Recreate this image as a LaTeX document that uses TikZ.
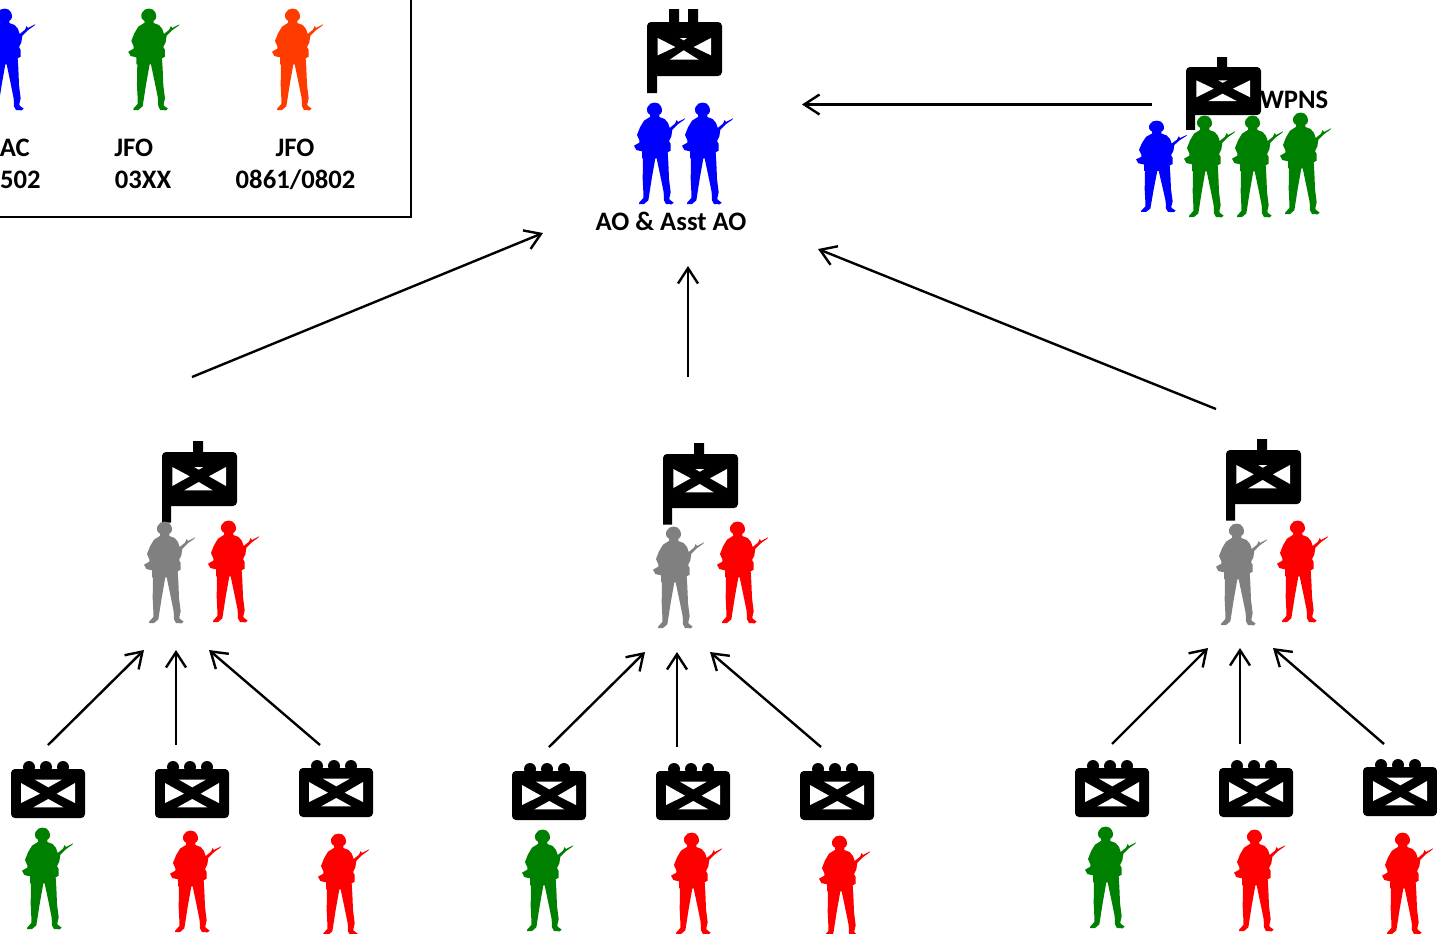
\documentclass[tikz,border=0pt]{standalone}
\usepackage{fontspec}
\setmainfont{Carlito}
\usetikzlibrary{arrows.meta}
\tikzset{
  link/.style={draw=black,line width=1.8pt,-{Straight Barb[length=11.5pt,width=15pt,line width=1.8pt]}},
  legendline/.style={draw=black,line width=1.5pt},
  lbl/.style={font=\fontsize{20}{24}\selectfont\bfseries,text=black,inner sep=0pt},
  pics/soldier/.style={code={
    \begin{scope}[x=.25pt,y=-.25pt,shift={(-24,-12)}]
    \fill[pic actions] (73,53) -- (72,47) .. controls (61,43) and (61,28) .. (66,22)
      .. controls (72,7) and (100,7) .. (105,22) .. controls (110,32) and (109,44) .. (100,47)
      -- (100,54) -- (116,60) -- (126,72) -- (131,87) -- (147,74) -- (152,63) -- (156,69)
      -- (177,58) -- (175,62) -- (155,76) -- (139,92) -- (136,112) -- (129,126) -- (134,135)
      -- (134,155) -- (125,160) -- (127,190) -- (129,240) -- (134,280) -- (130,297) -- (131,302)
      -- (143,311) -- (137,316) -- (120,315) -- (114,304) -- (113,280) -- (105,240) -- (92,178)
      -- (88,178) -- (77,240) -- (70,285) -- (67,304) -- (54,315) -- (39,315) -- (40,310)
      -- (52,297) -- (52,280) -- (50,240) -- (51,178) -- (48,178) -- (48,157) -- (31,153)
      -- (24,140) -- (40,131) -- (40,124) -- (33,108) -- (42,85) -- (54,65) -- cycle;
    \end{scope}
  }},
  pics/squadbox/.style={code={
    \fill[black] (18,6) circle[radius=6] (35,6) circle[radius=6] (52,6) circle[radius=6];
    \fill[black,rounded corners=3pt] (0,8) rectangle (74,57);
    \begin{scope}[yshift=-6pt]
    \fill[white] (10,14)--(29,24.7)--(10,34)--cycle (24,10.7)--(50.7,10.7)--(37.3,18.3)--cycle
      (22.3,38.3)--(52.3,38.3)--(37.3,30)--cycle (64,14)--(45.7,24.7)--(64,34)--cycle;
    \end{scope}
  }},
  pics/platoonbox/.style={code={
    \fill[black] (31,-11) rectangle (41,1) (0,45) rectangle (9,70.5);
    \fill[black,rounded corners=3pt] (0,0) rectangle (75,54);
    \fill[white] (10.3,15)--(27.7,24.3)--(10.3,34)--cycle (32.3,15)--(41.3,15)--(36.7,17.7)--cycle
      (22.3,38.3)--(50.7,38.3)--(36.7,30)--cycle (64,15)--(47,24.3)--(64,34)--cycle;
  }},
  pics/companybox/.style={code={
    \fill[black] (22,-13) rectangle (32,1) (41,-13) rectangle (51,1) (0,45) rectangle (10,71);
    \fill[black,rounded corners=3pt] (0,0) rectangle (75,54);
    \fill[white] (10.7,16)--(28.3,25)--(10.7,33.3)--cycle (32.7,16)--(40,16)--(36.7,18.3)--cycle
      (22.7,37.7)--(51.7,37.7)--(36.7,28.3)--cycle (64,16)--(46.7,25)--(64,33.3)--cycle;
  }},
}
\definecolor{solblue}{HTML}{0000FF}
\definecolor{solgreen}{HTML}{008000}
\definecolor{solred}{HTML}{FF0000}
\definecolor{solgray}{HTML}{808080}
\definecolor{solorange}{HTML}{FF3C00}
\begin{document}
\begin{tikzpicture}[x=.75pt,y=-.75pt]
\useasboundingbox (0,0) rectangle (1437,933);
\clip (0,0) rectangle (1437,933);
% legend
\draw[legendline] (-5,216.5) -- (410.5,216.5) -- (410.5,-5);
\pic[fill=solblue] (legA) at (-16,9) {soldier};
\pic[fill=solgreen] (legB) at (128.3,9) {soldier};
\pic[fill=solorange] (legC) at (272,9) {soldier};
\node[lbl,anchor=east] (t1) at (30,148) {AC};
\node[lbl,anchor=east] (t2) at (41,180) {502};
\node[lbl,anchor=west] (t3) at (114,148) {JFO};
\node[lbl,anchor=west] (t4) at (114.5,180) {03XX};
\node[lbl] (t5) at (295,148) {JFO};
\node[lbl] (t6) at (295.5,180) {0861/0802};
% company
\pic (co) at (647,22) {companybox};
\pic[fill=solblue] (coA) at (634,103) {soldier};
\pic[fill=solblue] (coB) at (682,103) {soldier};
\node[lbl] (aolbl) at (671,221.5) {AO \& Asst AO};
% weapons
\pic[yscale=.89] (wp) at (1186,67) {platoonbox};
\pic[fill=solblue,yscale=.9] (wpA) at (1136,121) {soldier};
\pic[fill=solgreen] (wpB) at (1184,116) {soldier};
\pic[fill=solgreen] (wpC) at (1232,116) {soldier};
\pic[fill=solgreen] (wpD) at (1280,113) {soldier};
\node[lbl,anchor=west] (wpns) at (1259.5,100) {WPNS};
% platoons
\pic (p1) at (162,452) {platoonbox};
\pic[fill=solgray] (p1a) at (144,522) {soldier};
\pic[fill=solred] (p1b) at (208,521) {soldier};
\pic (p2) at (663,454) {platoonbox};
\pic[fill=solgray] (p2a) at (653,527) {soldier};
\pic[fill=solred] (p2b) at (717,522) {soldier};
\pic (p3) at (1226,450) {platoonbox};
\pic[fill=solgray] (p3a) at (1216,524) {soldier};
\pic[fill=solred] (p3b) at (1277,521) {soldier};
% squads
\pic (s1) at (11,761) {squadbox};
\pic (s2) at (155,761) {squadbox};
\pic (s3) at (299,760) {squadbox};
\pic (s4) at (512,763) {squadbox};
\pic (s5) at (656,763) {squadbox};
\pic (s6) at (800,763) {squadbox};
\pic (s7) at (1075,760) {squadbox};
\pic (s8) at (1219,760) {squadbox};
\pic (s9) at (1363,759) {squadbox};
\pic[fill=solgreen] (m1) at (22,828) {soldier};
\pic[fill=solred] (m2) at (170,831) {soldier};
\pic[fill=solred] (m3) at (318,834) {soldier};
\pic[fill=solgreen] (m4) at (522,830) {soldier};
\pic[fill=solred] (m5) at (671,833) {soldier};
\pic[fill=solred] (m6) at (819,836) {soldier};
\pic[fill=solgreen] (m7) at (1085,827) {soldier};
\pic[fill=solred] (m8) at (1234,830) {soldier};
\pic[fill=solred] (m9) at (1382,833) {soldier};
% connector ends
\coordinate (a1s) at (192,377); \coordinate (a1e) at (543,233);
\coordinate (a2s) at (688,377); \coordinate (a2e) at (688,266);
\coordinate (a3s) at (1216,409); \coordinate (a3e) at (818,249);
\coordinate (a4s) at (1152,104.5); \coordinate (a4e) at (802,104.5);
\coordinate (b1s) at (48,745); \coordinate (b1e) at (144,650);
\coordinate (b2s) at (176,745); \coordinate (b2e) at (176,650);
\coordinate (b3s) at (320,745); \coordinate (b3e) at (209,650);
\coordinate (b4s) at (549,747); \coordinate (b4e) at (645,652);
\coordinate (b5s) at (677,747); \coordinate (b5e) at (677,652);
\coordinate (b6s) at (821,747); \coordinate (b6e) at (710,652);
\coordinate (b7s) at (1112,744); \coordinate (b7e) at (1208,648);
\coordinate (b8s) at (1240,744); \coordinate (b8e) at (1240,648);
\coordinate (b9s) at (1384,744); \coordinate (b9e) at (1273,648);
\foreach \n in {a1,a2,a3,a4,b1,b2,b3,b4,b5,b6,b7,b8,b9}
  \draw[link] (\n s) -- (\n e);
\end{tikzpicture}
\end{document}
